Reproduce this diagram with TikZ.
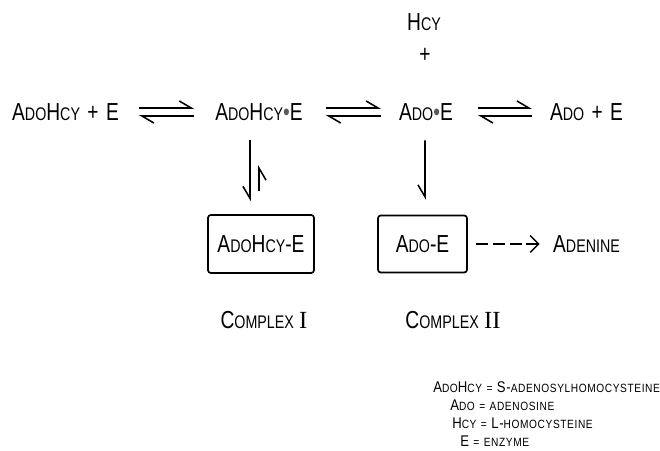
\documentclass[tikz,border=0pt]{standalone}
\usepackage{fontspec}
\setmainfont{Liberation Sans}[FakeStretch=0.78]
\newfontfamily\keyfont{Liberation Sans}[FakeStretch=0.85, LetterSpace=5]
\newfontfamily\numserif{Liberation Serif}
\usetikzlibrary{arrows.meta,calc}

% small capitals by hand
\newcommand{\lc}[1]{{\fontsize{13}{14}\selectfont #1}}
\newcommand{\lglc}[1]{{\fontsize{8.5}{9}\selectfont #1}}
\newcommand{\dotb}{{\color{black!65}\textbullet}}
\newcommand{\rnum}[1]{{\numserif #1}}
\newcommand{\pl}{\hspace{0.3em}+\hspace{0.3em}}

\tikzset{
    chem/.style={inner sep=0pt, minimum width=#1*0.025cm, minimum height=17*0.025cm,
        font=\fontsize{17.5}{19}\selectfont},
    cbox/.style={draw, line width=1.2pt, rounded corners=2pt, inner sep=0pt,
        font=\fontsize{17.5}{19}\selectfont},
    legend/.style={inner sep=0pt, anchor=west,
        font=\keyfont\fontsize{11}{12}\selectfont},
    eqarrow/.style={line width=1.1pt, -{Straight Barb[left,length=8.5pt,width=10pt]}},
    vharp/.style={line width=1.1pt, -{Straight Barb[right,length=8.5pt,width=10pt]}},
    dasharrow/.style={line width=1.1pt, dash pattern=on 8.5pt off 3.5pt,
        -{Straight Barb[length=6pt,width=12pt]}}
}

\begin{document}
\begin{tikzpicture}[x=0.025cm, y=-0.025cm]
    \useasboundingbox (0,0) rectangle (660,451);

    % Reaction row
    \node[chem=105] (ahcyE) at (65.5,112) {A\lc{DO}H\lc{CY}\pl E};
    \node[chem=86] (ahcyDotE) at (259,112) {A\lc{DO}H\lc{CY}\dotb E};
    \node[chem=52] (adoDotE) at (426,112) {A\lc{DO}\dotb E};
    \node[chem=73] (adoE) at (586.5,112) {A\lc{DO}\pl E};

    % Hcy set free
    \node[chem=32] (hcy) at (424,22) {H\lc{CY}};
    \node[chem=10] (plus) at (425,55) {+};

    % Complexes
    \node[cbox, minimum width=106*0.025cm, minimum height=58*0.025cm] (cplxI) at (261,244) {A\lc{DO}H\lc{CY}-E};
    \node[cbox, minimum width=89*0.025cm, minimum height=57*0.025cm] (cplxII) at (422.5,244) {A\lc{DO}-E};
    \node[chem=73] (adenine) at (586.5,244) {A\lc{DENINE}};

    \node[chem=92] (nameI) at (264,320) {C\lc{OMPLEX} \rnum{I}};
    \node[chem=110] (nameII) at (453,320) {C\lc{OMPLEX} \rnum{II}};

    % Equilibria
    \draw[eqarrow] ($(ahcyE.east)+(20,-4)$) -- ($(ahcyDotE.west)+(-21,-4)$);
    \draw[eqarrow] ($(ahcyDotE.west)+(-21,4)$) -- ($(ahcyE.east)+(20,4)$);
    \draw[eqarrow] ($(ahcyDotE.east)+(23,-4)$) -- ($(adoDotE.west)+(-18,-4)$);
    \draw[eqarrow] ($(adoDotE.west)+(-18,4)$) -- ($(ahcyDotE.east)+(23,4)$);
    \draw[eqarrow] ($(adoDotE.east)+(25,-4)$) -- ($(adoE.west)+(-18,-4)$);
    \draw[eqarrow] ($(adoE.west)+(-18,4)$) -- ($(adoDotE.east)+(25,4)$);

    % To the complexes
    \draw[vharp] ($(ahcyDotE.south)+(-9,19.5)$) -- ($(cplxI.north)+(-11,-13)$);
    \draw[vharp] ($(cplxI.north)+(-2,-23)$) -- ($(ahcyDotE.south)+(0,44.5)$);
    \draw[vharp] ($(adoDotE.south)+(-1,19.5)$) -- ($(cplxII.north)+(2.5,-15)$);
    \draw[dasharrow] ($(cplxII.east)+(8,0)$) -- ($(adenine.west)+(-10,0)$);

    % Key
    \node[legend] (keyAdoHcy) at (433,387) {A\lglc{DO}H\lglc{CY} \lglc{=} S-\lglc{ADENOSYLHOMOCYSTEINE}};
    \node[legend] (keyAdo) at (450,405) {A\lglc{DO} \lglc{=} \lglc{ADENOSINE}};
    \node[legend] (keyHcy) at (452,423) {H\lglc{CY} \lglc{=} L-\lglc{HOMOCYSTEINE}};
    \node[legend] (keyE) at (460,441) {E \lglc{=} \lglc{ENZYME}};
\end{tikzpicture}
\end{document}
